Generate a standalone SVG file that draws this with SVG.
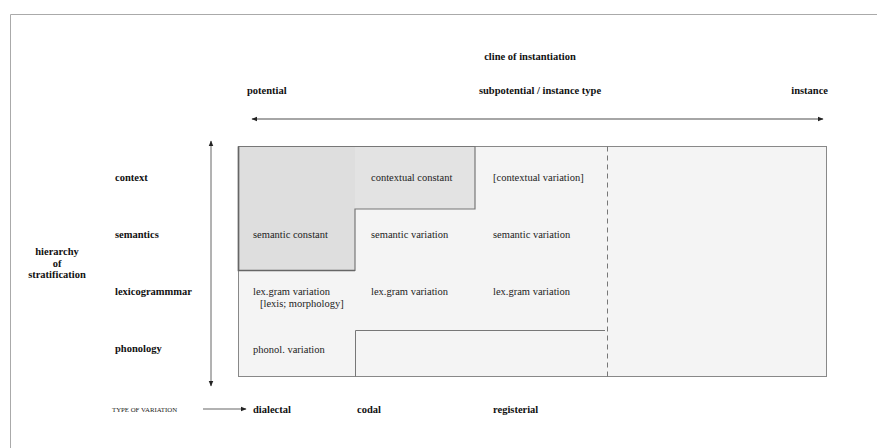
<svg xmlns="http://www.w3.org/2000/svg" width="877" height="448" viewBox="0 0 877 448">
<style>
.lbl{font-family:"Liberation Serif","Times New Roman",serif;font-weight:bold;font-size:10.5px;fill:#111}
.cell{font-family:"Liberation Serif","Times New Roman",serif;font-size:10.5px;fill:#222}
.small{font-family:"Liberation Serif","Times New Roman",serif;font-size:6.8px;fill:#222}
</style>
<defs>
<marker id="ah" viewBox="0 0 10 10" refX="9" refY="5" markerWidth="6" markerHeight="6" orient="auto-start-reverse" markerUnits="userSpaceOnUse">
<path d="M0,1 L10,5 L0,9 z" fill="#222"/>
</marker>
</defs>
<rect width="877" height="448" fill="#fff"/>
<path d="M10.5,448 V14.5 H877" fill="none" stroke="#aaa" stroke-width="1"/>

<g id="header">
<text class="lbl" x="530" y="60" text-anchor="middle">cline of instantiation</text>
<text class="lbl" x="247" y="94">potential</text>
<text class="lbl" x="540" y="94" text-anchor="middle">subpotential / instance type</text>
<text class="lbl" x="828" y="94" text-anchor="end">instance</text>
</g>

<g id="grid">
<rect x="238.5" y="146.5" width="588" height="230" fill="#f4f4f4" stroke="#888" stroke-width="1"/>
</g>
<g id="constants">
<rect x="348" y="146.5" width="127" height="62.5" fill="#e3e3e3"/>
<rect x="238.5" y="146.5" width="116.5" height="124" fill="#dedede"/>
<path d="M238.5,146.5 H475 V209 H355 V270.5 H238.5 Z" fill="none" stroke="#777" stroke-width="1.2"/>
<path d="M238.5,146.5 V270.5 H355" fill="none" stroke="#666" stroke-width="1.6"/>
</g>
<g id="steps">
<path d="M355.5,376.5 V330.5 H605" fill="none" stroke="#777" stroke-width="1"/>
<line x1="607.5" y1="146.5" x2="607.5" y2="376.5" stroke="#777" stroke-width="1" stroke-dasharray="5,4"/>
</g>

<g id="strata">
<text class="lbl" x="115" y="181">context</text>
<text class="lbl" x="115" y="238">semantics</text>
<text class="lbl" x="115" y="295">lexicogrammmar</text>
<text class="lbl" x="115" y="352">phonology</text>
<text class="lbl" x="57" y="255" text-anchor="middle">hierarchy</text>
<text class="lbl" x="57" y="266.5" text-anchor="middle">of</text>
<text class="lbl" x="57" y="278" text-anchor="middle">stratification</text>
</g>

<g id="cells">
<text class="cell" x="371" y="180.5">contextual constant</text>
<text class="cell" x="493" y="180.5">[contextual variation]</text>
<text class="cell" x="253" y="237.5">semantic constant</text>
<text class="cell" x="371" y="237.5">semantic variation</text>
<text class="cell" x="493" y="237.5">semantic variation</text>
<text class="cell" x="253" y="295">lex.gram variation</text>
<text class="cell" x="260" y="306.5">[lexis; morphology]</text>
<text class="cell" x="371" y="295">lex.gram variation</text>
<text class="cell" x="493" y="295">lex.gram variation</text>
<text class="cell" x="253" y="352.5">phonol. variation</text>
</g>

<g id="connectors">
<line x1="252" y1="119" x2="823" y2="119" stroke="#888" stroke-width="1.3" marker-start="url(#ah)" marker-end="url(#ah)"/>
<line x1="211" y1="141" x2="211" y2="386" stroke="#666" stroke-width="1" marker-start="url(#ah)" marker-end="url(#ah)"/>
<line x1="203" y1="409" x2="246" y2="409" stroke="#999" stroke-width="1.3" marker-end="url(#ah)"/>
</g>

<g id="variation">
<text class="small" x="112" y="411.5">TYPE OF VARIATION</text>
<text class="lbl" x="253" y="413">dialectal</text>
<text class="lbl" x="357" y="413">codal</text>
<text class="lbl" x="493" y="413">registerial</text>
</g>
</svg>
